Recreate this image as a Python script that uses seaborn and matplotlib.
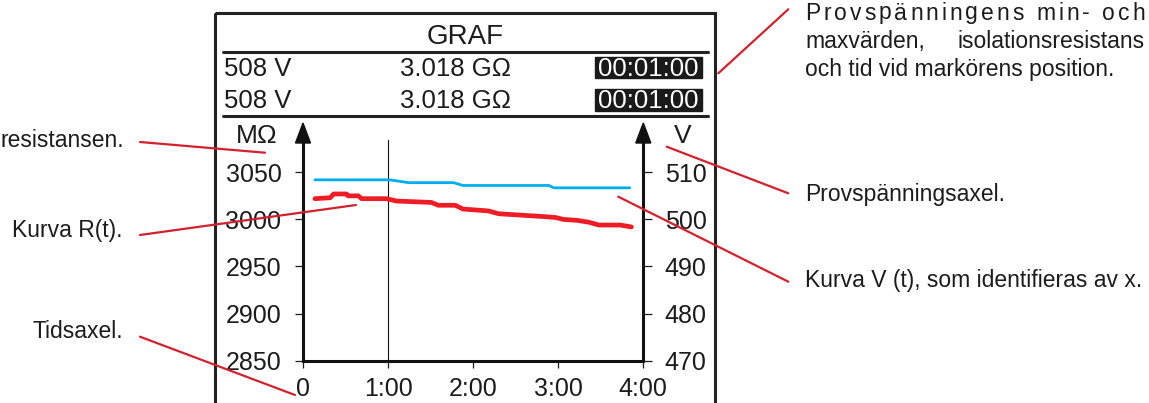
import numpy as np
import pandas as pd
import seaborn as sns
import matplotlib
matplotlib.use("Agg")
import matplotlib.pyplot as plt
from matplotlib.lines import Line2D
from matplotlib.patches import Rectangle, Polygon
from matplotlib.transforms import Affine2D

# R(t): insulation resistance in MOhm, time in minutes
r_time = [0.14, 0.32, 0.36, 0.51, 0.53, 0.65, 0.69, 0.98, 1.10, 1.51, 1.59, 1.79,
          1.88, 2.18, 2.30, 2.83, 2.97, 3.06, 3.22, 3.36, 3.48, 3.73, 3.86]
r_mohm = [3022, 3023, 3027, 3027, 3025, 3025, 3022, 3022, 3019.5, 3018, 3015, 3015,
          3011, 3009, 3006, 3003, 3002, 3000, 2999, 2997, 2994, 2994, 2992]

# V(t): test voltage in V
v_time = [0.14, 1.02, 1.24, 1.77, 1.88, 2.89, 2.95, 3.84]
v_volt = [508.4, 508.4, 507.8, 507.8, 507.2, 507.2, 506.7, 506.7]

cursor_t = 1.0
x_ticks = [0, 1, 2, 3, 4]
x_labels = ['0', '1:00', '2:00', '3:00', '4:00']
r_ticks = [2850, 2900, 2950, 3000, 3050]
v_ticks = [470, 480, 490, 500, 510]

header_v = '508 V'
header_r = '3.018 G\u03a9'
header_t = '00:01:00'

RED = '#ee1c25'
BLUE = '#00aeef'
NOTE = '#d3212d'
INK = '#1c1c1c'
W, H = 1149, 403


def spread_text(fig, tr, s, x0, x1, y, **kw):
    # letter-spaced (justified) line, placed char by char
    r = fig.canvas.get_renderer()

    def width(txt):
        t = fig.text(0, 0, txt, **kw)
        w = t.get_window_extent(r).width
        t.remove()
        return w

    sp = width('x x') - width('xx')
    widths = [sp if ch == ' ' else width(ch) for ch in s]
    gap = (x1 - x0 - sum(widths)) / (len(s) - 1)
    x = x0
    for ch, w in zip(s, widths):
        if ch != ' ':
            fig.text(x, y, ch, transform=tr, ha='left', va='baseline', **kw)
        x += w + gap


def main():
    sns.set_style('white')
    plt.rcParams['font.family'] = ['Liberation Sans', 'DejaVu Sans']

    fig = plt.figure(figsize=(W / 100, H / 100), dpi=100)
    px = Affine2D().scale(1 / W, -1 / H).translate(0, 1) + fig.transFigure

    # plot area: x 303..643 px, y 130..361 px
    ax = fig.add_axes([303 / W, 1 - 360.7 / H, 340.3 / W, 230.7 / H])
    ax2 = ax.twinx()

    df_r = pd.DataFrame({'t': r_time, 'R': r_mohm})
    df_v = pd.DataFrame({'t': v_time, 'V': v_volt})
    sns.lineplot(data=df_r, x='t', y='R', ax=ax, color=RED, lw=3.4, zorder=3)
    sns.lineplot(data=df_v, x='t', y='V', ax=ax2, color=BLUE, lw=2.0, zorder=3)

    ax.set_xlim(0, 4)
    ax.set_ylim(2850, 3094.9)
    ax2.set_ylim(470, 518.98)
    ax.set_xticks(x_ticks, x_labels)
    ax.set_yticks(r_ticks)
    ax2.set_yticks(v_ticks)
    for a in (ax, ax2):
        a.set_xlabel('')
        a.set_ylabel('')
        a.patch.set_alpha(0)
        for s in a.spines.values():
            s.set_visible(False)
            s.set_linewidth(2.2)
            s.set_color('#111111')
    ax.spines['left'].set_visible(True)
    ax.spines['bottom'].set_visible(True)
    ax2.spines['right'].set_visible(True)
    ax.tick_params(axis='y', direction='out', length=5.5, width=0.9, pad=10,
                   labelsize=18, colors=INK, left=True)
    ax.tick_params(axis='x', direction='out', length=5, width=0.9, pad=7,
                   labelsize=18, colors=INK, bottom=True)
    ax2.tick_params(axis='y', direction='out', length=6.5, width=0.9, pad=9,
                    labelsize=18, colors=INK, right=True)

    # cursor line at 1:00
    ax.axvline(cursor_t, ymin=0, ymax=(360.7 - 140) / 230.7, color='#111111', lw=0.8, zorder=2)

    # axis arrow heads
    hx = 7.5 / 340.3
    tip = 1 + 7 / 230.7
    base = 1 - 13 / 230.7
    for x in (0, 1):
        ax.add_patch(Polygon([(x - hx, base), (x + hx, base), (x, tip)], closed=True,
                             transform=ax.transAxes, color='#111111', clip_on=False, zorder=5))
    fig.text(257, 143, 'M\u03a9', transform=px, ha='center', va='baseline', fontsize=19, color=INK)
    fig.text(683, 143, 'V', transform=px, ha='center', va='baseline', fontsize=19, color=INK)

    # instrument frame and header
    fig.add_artist(Rectangle((215, 13), 500, 420, transform=px, fill=False,
                             lw=2.2, edgecolor='#222222', clip_on=False))
    for y in (51.5, 116):
        fig.add_artist(Line2D([223, 708], [y, y], transform=px, lw=2.2, color='#222222'))
    fig.text(465, 43.5, 'GRAF', transform=px, ha='center', va='baseline', fontsize=20, color=INK)
    for yb, (b0, b1) in zip((76, 108.5), ((56.7, 78.3), (89.3, 110.7))):
        fig.text(224, yb, header_v, transform=px, ha='left', va='baseline', fontsize=18.5, color=INK)
        fig.text(455, yb, header_r, transform=px, ha='center', va='baseline', fontsize=18.5, color=INK)
        fig.add_artist(Rectangle((595, b0), 107, b1 - b0, transform=px, color='#1a1a1a'))
        fig.text(648.5, yb, header_t, transform=px, ha='center', va='baseline', fontsize=18.5, color='white')

    # callout texts
    note_kw = dict(fontsize=16.5, color=INK)
    fig.text(124, 146.7, 'resistansen.', transform=px, ha='right', va='baseline', **note_kw)
    fig.text(123, 236.7, 'Kurva R(t).', transform=px, ha='right', va='baseline', **note_kw)
    fig.text(123, 338.3, 'Tidsaxel.', transform=px, ha='right', va='baseline', **note_kw)
    spread_text(fig, px, 'Provsp\u00e4nningens min- och', 805, 1145, 19.5, **note_kw)
    fig.text(805, 48, 'maxv\u00e4rden,', transform=px, ha='left', va='baseline', **note_kw)
    fig.text(1145, 48, 'isolationsresistans', transform=px, ha='right', va='baseline', **note_kw)
    fig.text(805, 76, 'och tid vid mark\u00f6rens position.', transform=px, ha='left', va='baseline', **note_kw)
    fig.text(805, 201, 'Provsp\u00e4nningsaxel.', transform=px, ha='left', va='baseline', **note_kw)
    fig.text(805, 287.3, 'Kurva V (t), som identifieras av x.', transform=px, ha='left', va='baseline', **note_kw)

    leaders = [((140, 142), (265, 152.7)),
               ((140, 235), (356, 205)),
               ((140, 336.7), (295, 395)),
               ((718.3, 73.3), (788.3, 9.3)),
               ((788.3, 193.3), (666.7, 146.7)),
               ((788.3, 281.7), (618.3, 196.7))]
    for (x0, y0), (x1, y1) in leaders:
        fig.add_artist(Line2D([x0, x1], [y0, y1], transform=px, lw=1.6, color=NOTE, zorder=10))

    fig.savefig('out.png', dpi=100)


if __name__ == '__main__':
    main()
